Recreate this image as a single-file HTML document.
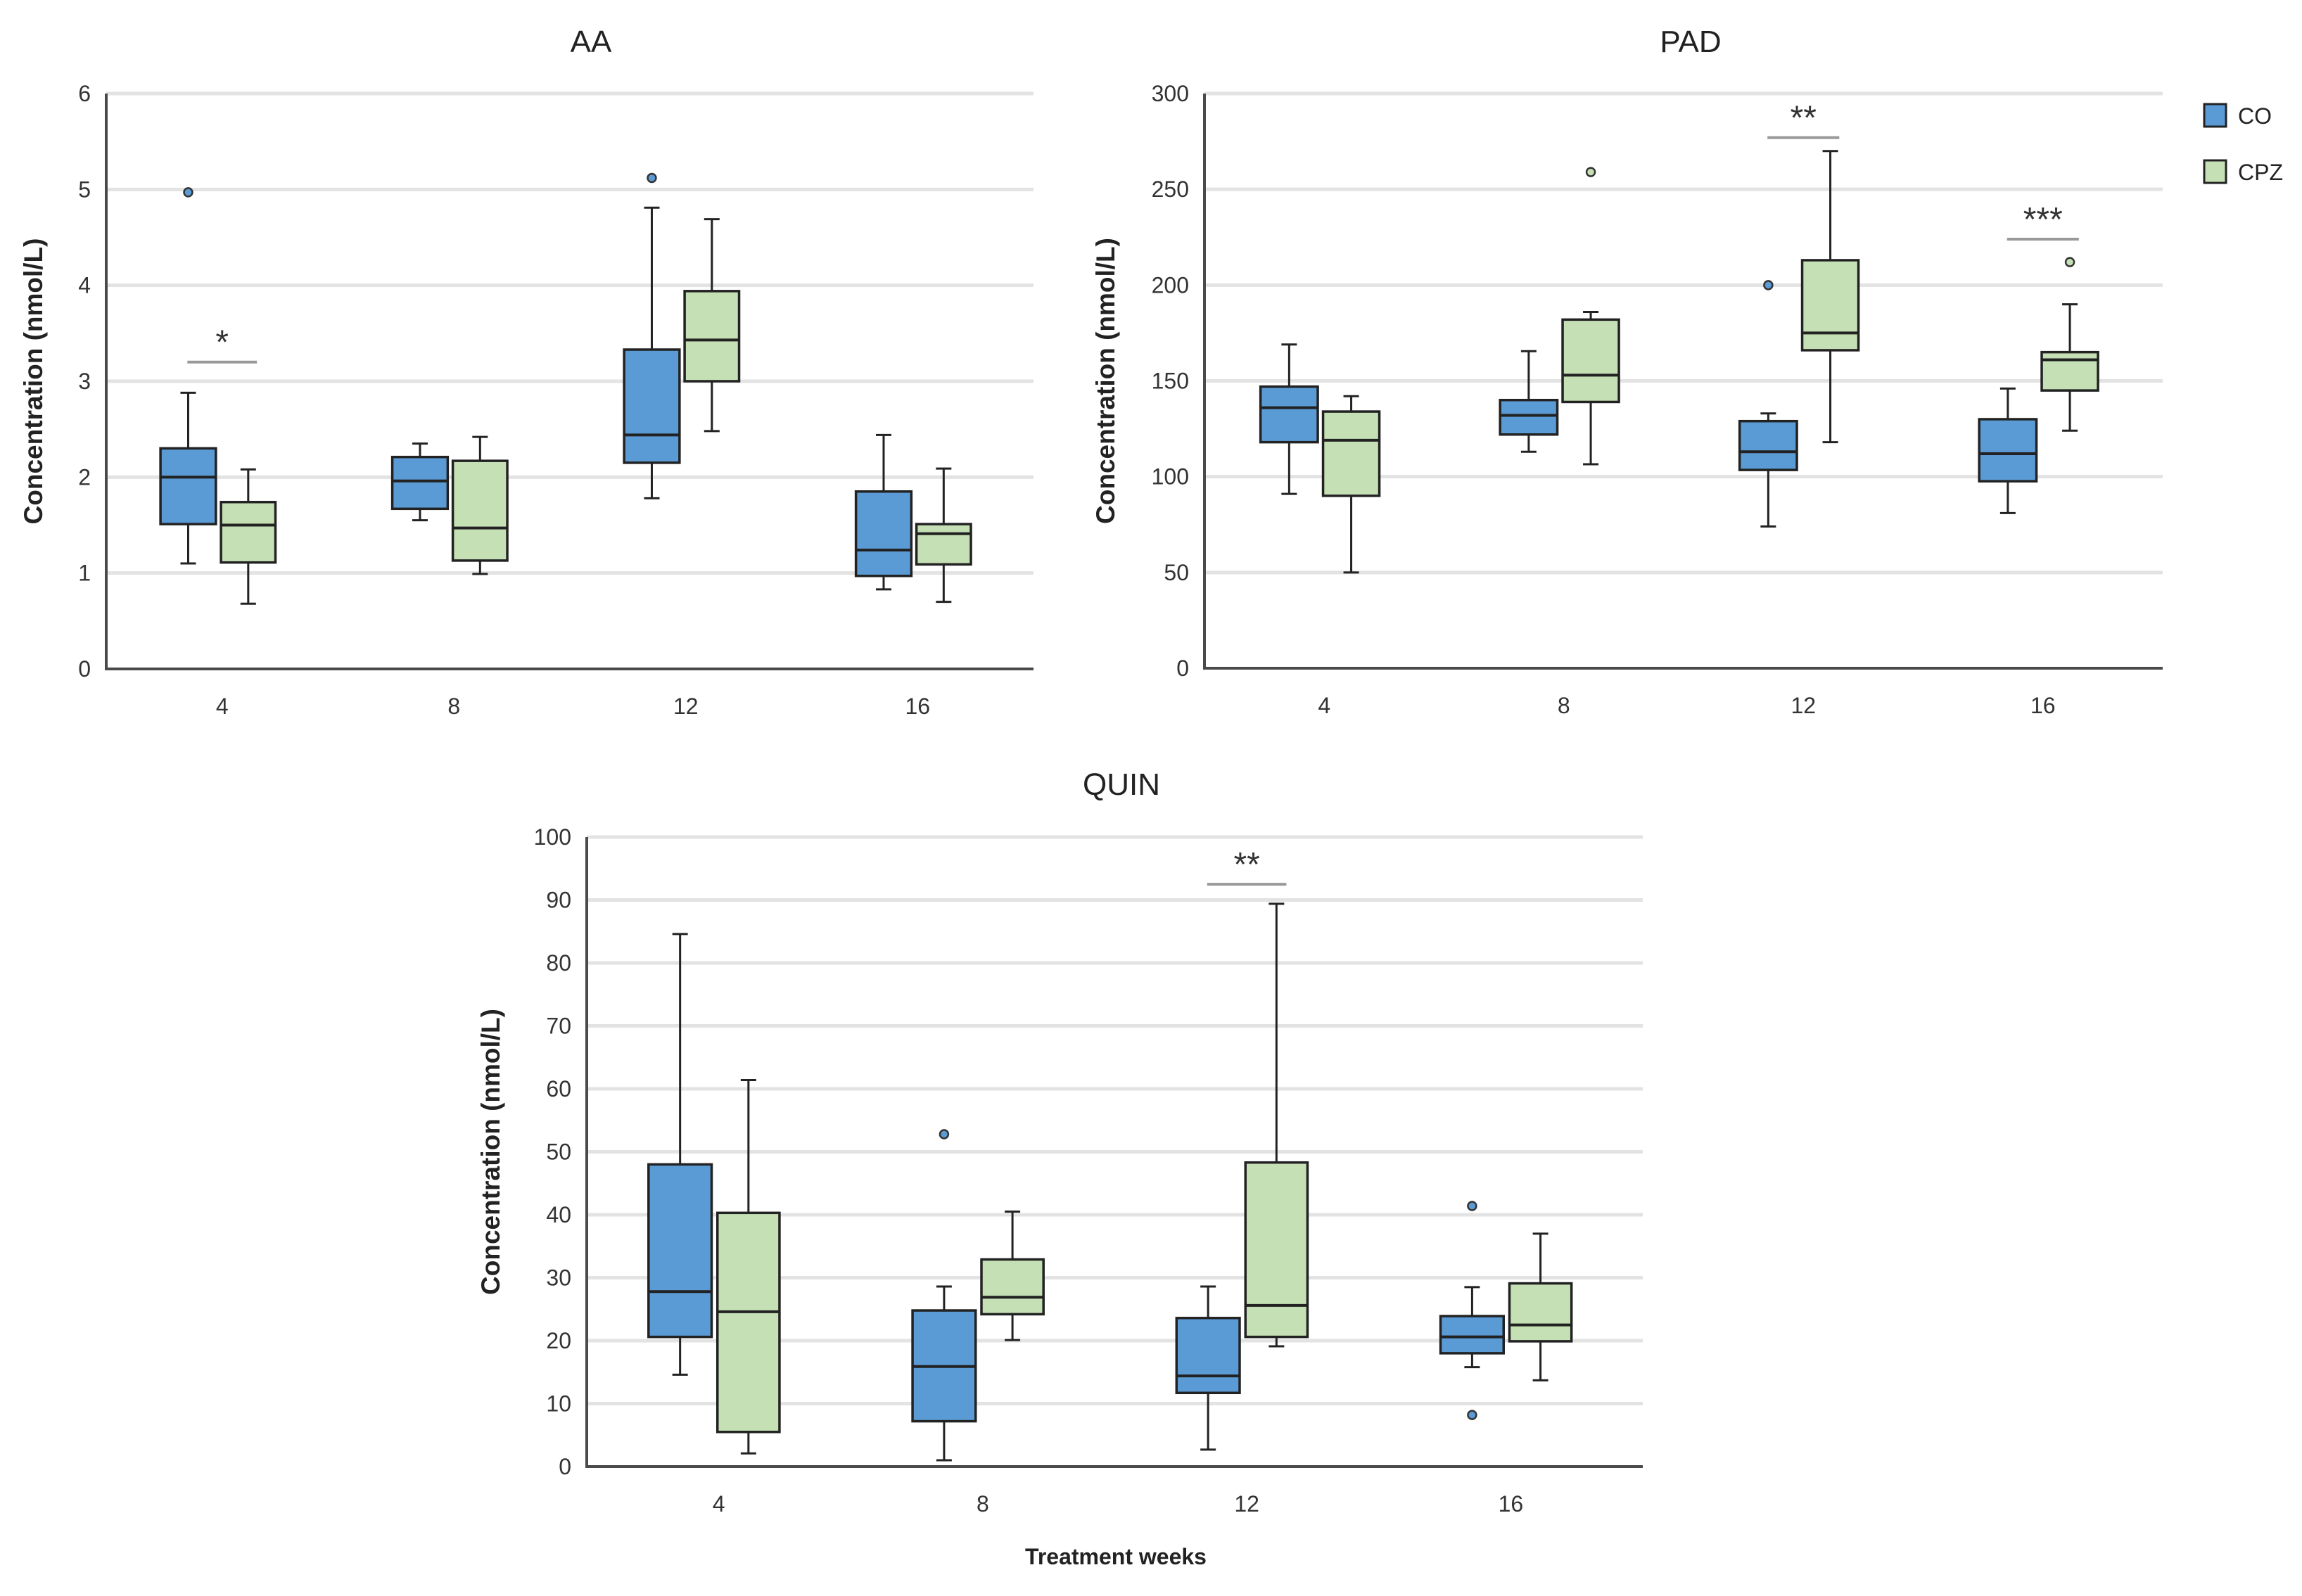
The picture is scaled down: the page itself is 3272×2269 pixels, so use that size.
<!DOCTYPE html>
<html><head><meta charset="utf-8">
<style>
html,body{margin:0;padding:0;background:#fff;}
svg{display:block;font-family:"Liberation Sans",sans-serif;}
</style></head>
<body>
<svg id="fig" width="3272" height="2269" viewBox="0 0 3272 2269" xmlns="http://www.w3.org/2000/svg">
  <rect width="3272" height="2269" fill="#fff"/>
  <g id="aa"></g>
  <g id="pad"></g>
  <g id="quin"></g>
  <g>
    <g>
      <rect x="3133" y="148" width="31" height="32" fill="#5b9bd5" stroke="#222" stroke-width="3"/>
      <text x="3181" y="176" font-size="32" fill="#222">CO</text>
    </g>
    <g>
      <rect x="3133" y="228" width="31" height="32" fill="#c5e0b4" stroke="#222" stroke-width="3"/>
      <text x="3181" y="256" font-size="32" fill="#222">CPZ</text>
    </g>
  </g>
  <text x="1586" y="2224" font-size="32" font-weight="bold" text-anchor="middle" fill="#222">Treatment weeks</text>
</svg>
<script>
const categories = ["4","8","12","16"];

// AA
const aaTicks = [0,1,2,3,4,5,6];
const aaCoMin = [1.10,1.55,1.78,0.83];
const aaCoQ1  = [1.51,1.67,2.15,0.97];
const aaCoMed = [2.00,1.96,2.44,1.24];
const aaCoQ3  = [2.30,2.21,3.33,1.85];
const aaCoMax = [2.88,2.35,4.81,2.44];
const aaCoOut = [[4.97],[],[5.12],[]];
const aaCpzMin = [0.68,0.99,2.48,0.70];
const aaCpzQ1  = [1.11,1.13,3.00,1.09];
const aaCpzMed = [1.50,1.47,3.43,1.41];
const aaCpzQ3  = [1.74,2.17,3.94,1.51];
const aaCpzMax = [2.08,2.42,4.69,2.09];
const aaCpzOut = [[],[],[],[]];
const aaSigCat = [0];
const aaSigVal = [3.2];
const aaSigLabel = ["*"];

// PAD
const padTicks = [0,50,100,150,200,250,300];
const padCoMin = [91,113,74,81];
const padCoQ1  = [118,122,103.5,97.6];
const padCoMed = [136,132,113,112];
const padCoQ3  = [147,140,129,130];
const padCoMax = [169,165.5,133,146];
const padCoOut = [[],[],[200],[]];
const padCpzMin = [50,106.5,118,124];
const padCpzQ1  = [90,139,166,145];
const padCpzMed = [119,153,175,161];
const padCpzQ3  = [134,182,213,165];
const padCpzMax = [142,186,270,190];
const padCpzOut = [[],[259],[],[212]];
const padSigCat = [2,3];
const padSigVal = [277,224];
const padSigLabel = ["**","***"];

// QUIN
const quinTicks = [0,10,20,30,40,50,60,70,80,90,100];
const quinCoMin = [14.6,1.0,2.7,15.8];
const quinCoQ1  = [20.6,7.2,11.7,18.0];
const quinCoMed = [27.8,15.9,14.4,20.6];
const quinCoQ3  = [48.0,24.8,23.6,23.9];
const quinCoMax = [84.6,28.6,28.6,28.5];
const quinCoOut = [[],[52.8],[],[41.4,8.2]];
const quinCpzMin = [2.1,20.1,19.1,13.7];
const quinCpzQ1  = [5.5,24.2,20.6,19.9];
const quinCpzMed = [24.6,26.9,25.6,22.5];
const quinCpzQ3  = [40.3,32.9,48.3,29.1];
const quinCpzMax = [61.4,40.5,89.4,37.0];
const quinCpzOut = [[],[],[],[]];
const quinSigCat = [2];
const quinSigVal = [92.5];
const quinSigLabel = ["**"];

const NS = "http://www.w3.org/2000/svg";
function mk(parent, tag, attrs, text){
  const e = document.createElementNS(NS, tag);
  for (const k in attrs) e.setAttribute(k, attrs[k]);
  if (text !== undefined) e.textContent = text;
  parent.appendChild(e);
  return e;
}

function drawPanel(gid, L, title, ticks, co, cpz, sigCat, sigVal, sigLabel){
  const g = document.getElementById(gid);
  const yMax = ticks[ticks.length-1];
  const y = v => L.bottom - (v / yMax) * (L.bottom - L.top);
  const bw = (L.right - L.left) / categories.length;
  const cx = i => L.left + bw * (i + 0.5);

  const t = mk(g, 'text', {x: L.titleX, y: L.titleY, 'font-size': 44, 'text-anchor': 'middle', fill: '#222'}, title);
  
  

  ticks.forEach(v => {
    if (v > 0) {
      const gl = mk(g, 'line', {x1: L.left, x2: L.right, y1: y(v), y2: y(v), stroke: '#e3e3e3', 'stroke-width': 5});
      
      
    }
    const tl = mk(g, 'text', {x: L.left - 22, y: y(v) + 11, 'font-size': 32, 'text-anchor': 'end', fill: '#333'}, String(v));
    
    
  });

  const ax = mk(g, 'path', {d: `M${L.left},${L.top} V${L.bottom} H${L.right}`, fill: 'none', stroke: '#4a4a4a', 'stroke-width': 4});
  
  

  categories.forEach((c, i) => {
    const xl = mk(g, 'text', {x: cx(i), y: L.bottom + 64, 'font-size': 32, 'text-anchor': 'middle', fill: '#333'}, c);
    
    
  });

  const yl = mk(g, 'text', {x: 0, y: 0, 'font-size': 37, 'font-weight': 'bold', 'text-anchor': 'middle', fill: '#222',
    transform: `translate(${L.ylabX},${(L.top + L.bottom) / 2}) rotate(-90)`}, 'Concentration (nmol/L)');
  
  

  const series = [
    {s: co, name: 'co', fill: '#5b9bd5', a: -0.266, b: -0.027},
    {s: cpz, name: 'cpz', fill: '#c5e0b4', a: -0.005, b: 0.230}
  ];
  series.forEach(S => {
    categories.forEach((c, i) => {
      const x0 = cx(i) + S.a * bw, x1 = cx(i) + S.b * bw, xm = (x0 + x1) / 2;
      const bg = mk(g, 'g', {});
      
      
      const st = {stroke: '#222', 'stroke-width': 3};
      mk(bg, 'line', Object.assign({x1: xm, x2: xm, y1: y(S.s.max[i]), y2: y(S.s.q3[i])}, st));
      mk(bg, 'line', Object.assign({x1: xm, x2: xm, y1: y(S.s.q1[i]), y2: y(S.s.min[i])}, st));
      mk(bg, 'line', Object.assign({x1: xm - 11, x2: xm + 11, y1: y(S.s.max[i]), y2: y(S.s.max[i])}, st));
      mk(bg, 'line', Object.assign({x1: xm - 11, x2: xm + 11, y1: y(S.s.min[i]), y2: y(S.s.min[i])}, st));
      mk(bg, 'rect', {x: x0, y: y(S.s.q3[i]), width: x1 - x0, height: y(S.s.q1[i]) - y(S.s.q3[i]), fill: S.fill, stroke: '#222', 'stroke-width': 3.5});
      mk(bg, 'line', {x1: x0, x2: x1, y1: y(S.s.med[i]), y2: y(S.s.med[i]), stroke: '#222', 'stroke-width': 4});
      S.s.out[i].forEach(v => {
        const o = mk(g, 'circle', {cx: xm, cy: y(v), r: 6, fill: S.fill, stroke: '#333', 'stroke-width': 2.5});
        
        
      });
    });
  });

  sigCat.forEach((ci, k) => {
    const x0 = cx(ci) - 0.15 * bw, x1 = cx(ci) + 0.15 * bw;
    const sl = mk(g, 'line', {x1: x0, x2: x1, y1: y(sigVal[k]), y2: y(sigVal[k]), stroke: '#999', 'stroke-width': 4});
    
    
    const sx = mk(g, 'text', {x: cx(ci), y: y(sigVal[k]) - 12, 'font-size': 48, 'text-anchor': 'middle', fill: '#333'}, sigLabel[k]);
    
    
  });
}

drawPanel('aa', {left: 151, right: 1469, top: 133, bottom: 951, titleX: 840, titleY: 74, ylabX: 60}, 'AA', aaTicks,
  {min: aaCoMin, q1: aaCoQ1, med: aaCoMed, q3: aaCoQ3, max: aaCoMax, out: aaCoOut},
  {min: aaCpzMin, q1: aaCpzQ1, med: aaCpzMed, q3: aaCpzQ3, max: aaCpzMax, out: aaCpzOut},
  aaSigCat, aaSigVal, aaSigLabel);

drawPanel('pad', {left: 1712, right: 3074, top: 133, bottom: 950, titleX: 2403, titleY: 74, ylabX: 1584}, 'PAD', padTicks,
  {min: padCoMin, q1: padCoQ1, med: padCoMed, q3: padCoQ3, max: padCoMax, out: padCoOut},
  {min: padCpzMin, q1: padCpzQ1, med: padCpzMed, q3: padCpzQ3, max: padCpzMax, out: padCpzOut},
  padSigCat, padSigVal, padSigLabel);

drawPanel('quin', {left: 834, right: 2335, top: 1190, bottom: 2085, titleX: 1594, titleY: 1130, ylabX: 710}, 'QUIN', quinTicks,
  {min: quinCoMin, q1: quinCoQ1, med: quinCoMed, q3: quinCoQ3, max: quinCoMax, out: quinCoOut},
  {min: quinCpzMin, q1: quinCpzQ1, med: quinCpzMed, q3: quinCpzQ3, max: quinCpzMax, out: quinCpzOut},
  quinSigCat, quinSigVal, quinSigLabel);
</script>
</body></html>
